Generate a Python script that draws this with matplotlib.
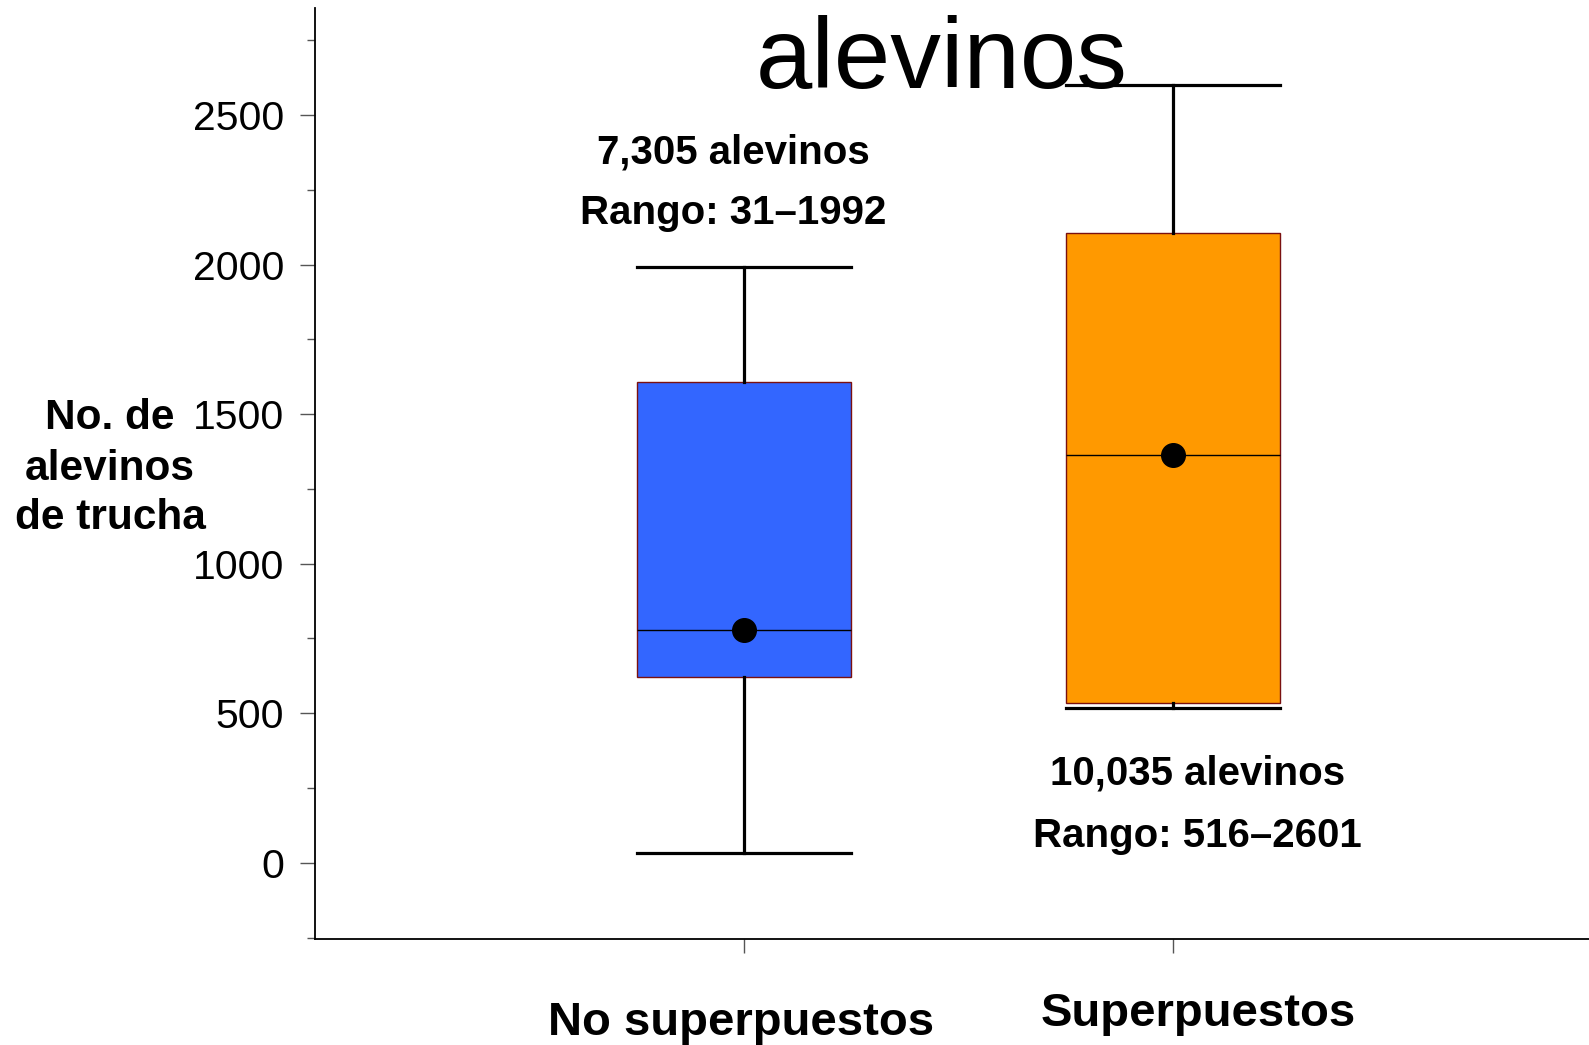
import matplotlib
matplotlib.use("Agg")
import matplotlib.pyplot as plt
from matplotlib.ticker import MultipleLocator

plt.rcParams['font.family'] = ['Liberation Sans', 'DejaVu Sans']

# box statistics
groups = ["No superpuestos", "Superpuestos"]
whis_low = [31, 516]
q1 = [622, 534]
medians = [778, 1364]
q3 = [1608, 2107]
whis_high = [1992, 2601]
means = [778, 1364]
totals = ["7,305 alevinos", "10,035 alevinos"]
ranges = ["Rango: 31\u20131992", "Rango: 516\u20132601"]
ylabel_lines = ["No. de", "alevinos", "de trucha"]
box_colors = ["#3366FF", "#FF9900"]

fig = plt.figure(figsize=(15.89, 10.45), dpi=100)
ax = fig.add_axes([315 / 1589, 1 - 939 / 1045, 1 - 315 / 1589, (939 - 8) / 1045])

stats = []
for i in range(len(groups)):
    stats.append(dict(whislo=whis_low[i], q1=q1[i], med=medians[i], q3=q3[i],
                      whishi=whis_high[i], mean=means[i], fliers=[], label=groups[i]))

bp = ax.bxp(stats, positions=[1, 2], widths=0.5, capwidths=0.5, patch_artist=True,
            showmeans=True, showfliers=False,
            boxprops=dict(edgecolor="#7A1010", linewidth=1.0),
            whiskerprops=dict(color="black", linewidth=2.3),
            capprops=dict(color="black", linewidth=2.3),
            medianprops=dict(color="black", linewidth=1.0),
            meanprops=dict(marker="o", markerfacecolor="black", markeredgecolor="black",
                           markersize=17))
for patch, c in zip(bp["boxes"], box_colors):
    patch.set_facecolor(c)

ax.set_xlim(0, 2.97)
ax.set_ylim(-255, 2858)
ax.yaxis.set_major_locator(MultipleLocator(500))
ax.yaxis.set_minor_locator(MultipleLocator(250))
ax.set_xticks([1, 2])
ax.set_xticklabels([])
ax.tick_params(axis="y", which="major", length=10.8, width=1.0, color="#555555",
               labelsize=29.5, pad=11.5)
ax.tick_params(axis="y", which="minor", length=5.8, width=1.0, color="#555555")
ax.tick_params(axis="x", length=10, width=1.0, color="#555555")
for s in ["top", "right"]:
    ax.spines[s].set_visible(False)
for s in ["left", "bottom"]:
    ax.spines[s].set_linewidth(1.3)

# annotations above / below the boxes
ax.text(0.975, 2375, totals[0], ha="center", va="center", fontsize=29, fontweight="bold")
ax.text(0.975, 2172, ranges[0], ha="center", va="center", fontsize=29, fontweight="bold")
ax.text(2.057, 297, totals[1], ha="center", va="center", fontsize=29, fontweight="bold")
ax.text(2.057, 88, ranges[1], ha="center", va="center", fontsize=29, fontweight="bold")

# title
fig.text(942 / 1589, 1 - 88 / 1045, "alevinos", ha="center", va="baseline", fontsize=73)

# category labels
fig.text(741 / 1589, 1 - 1035 / 1045, groups[0], ha="center", va="baseline",
         fontsize=34, fontweight="bold")
fig.text(1198 / 1589, 1 - 1026 / 1045, groups[1], ha="center", va="baseline",
         fontsize=34, fontweight="bold")

# y label, one line per baseline
for line, base in zip(ylabel_lines, [429, 480, 529]):
    fig.text(110 / 1589, 1 - base / 1045, line, ha="center", va="baseline",
             fontsize=30.5, fontweight="bold")

fig.savefig("out.png", dpi=100)
